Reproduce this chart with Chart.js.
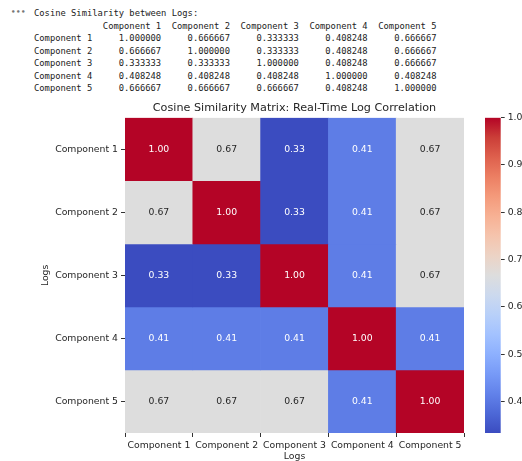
<!DOCTYPE html>
<html>
<head>
<meta charset="utf-8">
<script src="https://cdn.jsdelivr.net/npm/chart.js@4/dist/chart.umd.min.js"></script>
<style>
  html, body { margin:0; padding:0; background:#fff; width:522px; height:461px; overflow:hidden; }
  #dots { position:absolute; left:11px; top:8px; font:bold 7px 'DejaVu Sans', sans-serif; color:#777; letter-spacing:0.5px; }
  #table { position:absolute; left:34px; top:7px; margin:0; font-family:'DejaVu Sans Mono', monospace; font-size:8.8px; line-height:12.5px; color:#222; white-space:pre; }
  #main { position:absolute; left:0; top:0; }
  #cbar { position:absolute; left:470px; top:0; }
</style>
</head>
<body>
<div id="dots">•••</div>
<pre id="table"></pre>
<canvas id="main" width="522" height="461"></canvas>
<canvas id="cbar" width="52" height="461"></canvas>
<script>
// ---- data ----
const categories = ['Component 1', 'Component 2', 'Component 3', 'Component 4', 'Component 5'];
const matrix = [
  [1.000000, 0.666667, 0.333333, 0.408248, 0.666667],
  [0.666667, 1.000000, 0.333333, 0.408248, 0.666667],
  [0.333333, 0.333333, 1.000000, 0.408248, 0.666667],
  [0.408248, 0.408248, 0.408248, 1.000000, 0.408248],
  [0.666667, 0.666667, 0.666667, 0.408248, 1.000000]
];
const colorbarTicks = [0.4, 0.5, 0.6, 0.7, 0.8, 0.9, 1.0];
const tableTitle = 'Cosine Similarity between Logs:';
const chartTitle = 'Cosine Similarity Matrix: Real-Time Log Correlation';
const axisLabel = 'Logs';

// ---- printed table ----
(function(){
  const pad = (s, n) => ' '.repeat(Math.max(0, n - s.length)) + s;
  const w = 11;
  let lines = [tableTitle];
  lines.push(' '.repeat(w) + categories.map(c => '  ' + pad(c, w)).join(''));
  matrix.forEach((row, i) => {
    lines.push(categories[i] + row.map(v => '  ' + pad(v.toFixed(6), w)).join(''));
  });
  document.getElementById('table').textContent = lines.join('\n');
})();

// ---- coolwarm colormap (Moreland) ----
const coolwarm = [
  [0.0, 59, 76, 192], [0.0625, 77, 104, 215], [0.125, 98, 130, 234], [0.1875, 119, 154, 247],
  [0.25, 141, 176, 254], [0.3125, 163, 194, 255], [0.375, 184, 208, 249], [0.4375, 204, 217, 238],
  [0.5, 221, 221, 221], [0.5625, 236, 211, 197], [0.625, 245, 196, 173], [0.6875, 247, 177, 148],
  [0.75, 244, 154, 123], [0.8125, 236, 127, 99], [0.875, 222, 96, 77], [0.9375, 203, 62, 56],
  [1.0, 180, 4, 38]
];
function cmap(t) {
  t = Math.max(0, Math.min(1, t));
  for (let k = 1; k < coolwarm.length; k++) {
    if (t <= coolwarm[k][0]) {
      const a = coolwarm[k-1], b = coolwarm[k];
      const f = (t - a[0]) / (b[0] - a[0]);
      return [1,2,3].map(c => a[c] + (b[c] - a[c]) * f);
    }
  }
  return coolwarm[coolwarm.length-1].slice(1);
}
const vmin = Math.min(...matrix.flat());
const vmax = Math.max(...matrix.flat());
const rgb = c => `rgb(${c.map(Math.round).join(',')})`;
const norm = v => (v - vmin) / (vmax - vmin);
function textColor(c) {
  const lin = x => { x /= 255; return x <= 0.03928 ? x / 12.92 : Math.pow((x + 0.055) / 1.055, 2.4); };
  const L = 0.2126 * lin(c[0]) + 0.7152 * lin(c[1]) + 0.0722 * lin(c[2]);
  return L > 0.408 ? '#262626' : '#ffffff';
}

const FONT = "'DejaVu Sans', sans-serif";
const TXT = '#262626';

// ---- heatmap via floating bars ----
const datasets = matrix.map((row, i) => ({
  data: row.map(() => [i, i + 1]),
  backgroundColor: row.map(v => rgb(cmap(norm(v)))),
  borderWidth: 0,
  grouped: false,
  barPercentage: 1,
  categoryPercentage: 1
}));

const cellLabels = {
  id: 'cellLabels',
  afterDatasetsDraw(chart) {
    const ctx = chart.ctx;
    ctx.save();
    ctx.font = `9.3px ${FONT}`;
    ctx.textAlign = 'center';
    ctx.textBaseline = 'middle';
    chart.data.datasets.forEach((ds, i) => {
      chart.getDatasetMeta(i).data.forEach((bar, j) => {
        const v = matrix[i][j];
        ctx.fillStyle = textColor(cmap(norm(v)));
        ctx.fillText(v.toFixed(2), bar.x, (bar.y + bar.base) / 2);
      });
    });
    ctx.restore();
  }
};

new Chart(document.getElementById('main'), {
  type: 'bar',
  data: { labels: categories, datasets },
  plugins: [cellLabels],
  options: {
    responsive: false,
    devicePixelRatio: 1,
    animation: false,
    layout: { padding: { left: 0, top: 101, right: 58, bottom: 0 } },
    plugins: {
      legend: { display: false },
      tooltip: { enabled: false },
      title: {
        display: true, text: chartTitle, color: TXT, fullSize: false,
        font: { family: FONT, size: 11.2, weight: 'normal', lineHeight: 1.2 },
        padding: { top: 0, bottom: 3.3 }
      }
    },
    scales: {
      x: {
        type: 'category',
        offset: true,
        afterFit: s => { s.height = 28; },
        grid: { display: true, drawOnChartArea: false, drawTicks: true, tickLength: 4, tickColor: '#333', lineWidth: 1 },
        border: { display: false },
        ticks: { color: TXT, font: { family: FONT, size: 9.3 }, padding: 3, maxRotation: 0, autoSkip: false },
        title: { display: true, text: axisLabel, color: TXT, font: { family: FONT, size: 9.3 }, padding: { top: 0, bottom: -1.6 } }
      },
      y: {
        type: 'linear',
        min: 0, max: categories.length,
        reverse: true,
        afterFit: s => { s.width = 125; },
        afterBuildTicks: s => { s.ticks = categories.map((c, i) => ({ value: i + 0.5 })); },
        grid: { display: true, drawOnChartArea: false, drawTicks: true, tickLength: 4, tickColor: '#333', lineWidth: 1 },
        border: { display: false },
        ticks: {
          color: TXT, font: { family: FONT, size: 9.3 }, padding: 3, autoSkip: false,
          callback: (v, idx) => categories[idx]
        },
        title: { display: true, text: axisLabel, color: TXT, font: { family: FONT, size: 9.3 }, padding: { top: 40.4, bottom: 0 } }
      }
    }
  }
});

// ---- colorbar ----
new Chart(document.getElementById('cbar'), {
  type: 'bar',
  data: {
    labels: [''],
    datasets: [{
      data: [[vmin, vmax]],
      borderWidth: 0,
      barPercentage: 1,
      categoryPercentage: 1,
      backgroundColor: c => {
        const a = c.chart.chartArea;
        if (!a) return '#ddd';
        const g = c.chart.ctx.createLinearGradient(0, a.bottom, 0, a.top);
        coolwarm.forEach(([t, r, gg, b]) => g.addColorStop(t, `rgb(${r},${gg},${b})`));
        return g;
      }
    }]
  },
  options: {
    responsive: false,
    devicePixelRatio: 1,
    animation: false,
    layout: { padding: { left: 15, top: 117.7, right: 0, bottom: 28 } },
    plugins: { legend: { display: false }, tooltip: { enabled: false } },
    scales: {
      x: { display: false },
      y: {
        position: 'right',
        min: vmin, max: vmax,
        afterFit: s => { s.width = 21.3; },
        afterBuildTicks: s => { s.ticks = colorbarTicks.map(v => ({ value: v })); },
        grid: { display: true, drawOnChartArea: false, drawTicks: true, tickLength: 4, tickColor: '#333', lineWidth: 1 },
        border: { display: false },
        ticks: { color: TXT, font: { family: FONT, size: 9.3 }, padding: 3, autoSkip: false, callback: v => v.toFixed(1) }
      }
    }
  }
});
</script>
</body>
</html>
